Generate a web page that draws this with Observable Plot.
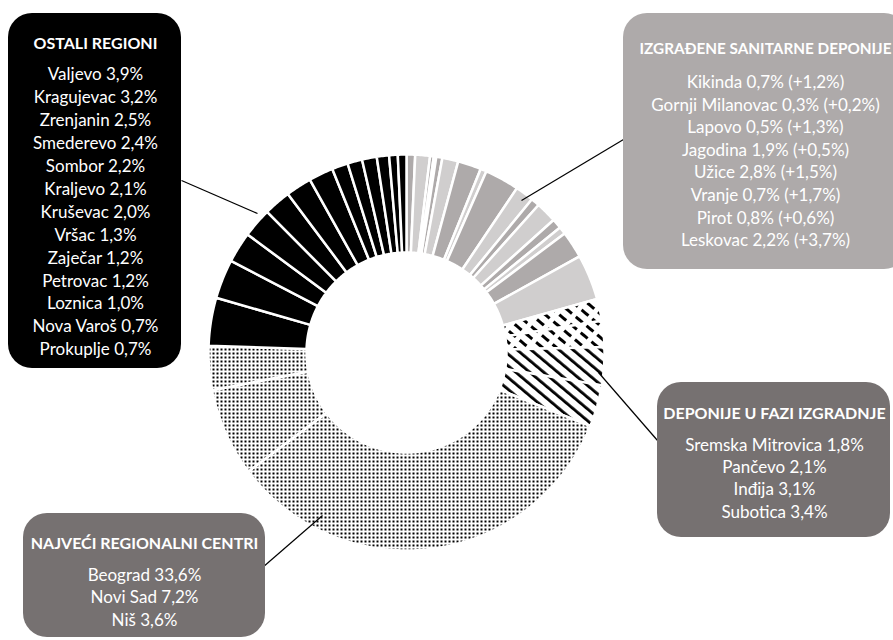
<!DOCTYPE html>
<html><head><meta charset="utf-8">
<script src="https://cdn.jsdelivr.net/npm/d3@7"></script>
<script src="https://cdn.jsdelivr.net/npm/@observablehq/plot@0.6"></script>
<style>html,body{margin:0;padding:0;background:#fff;overflow:hidden}</style>
</head><body><div id="chart"></div>
<script>
// ---- data ----
const sanitarneNames = ["Kikinda", "Gornji Milanovac", "Lapovo", "Jagodina", "Užice", "Vranje", "Pirot", "Leskovac"];
const sanitarneValues = [0.7, 0.3, 0.5, 1.9, 2.8, 0.7, 0.8, 2.2];
const sanitarnePlus = [1.2, 0.2, 1.3, 0.5, 1.5, 1.7, 0.6, 3.7];
const faziNames = ["Sremska Mitrovica", "Pančevo", "Inđija", "Subotica"];
const faziValues = [1.8, 2.1, 3.1, 3.4];
const centriNames = ["Beograd", "Novi Sad", "Niš"];
const centriValues = [33.6, 7.2, 3.6];
const ostaliNames = ["Valjevo", "Kragujevac", "Zrenjanin", "Smederevo", "Sombor", "Kraljevo", "Kruševac", "Vršac", "Zaječar", "Petrovac", "Loznica", "Nova Varoš", "Prokuplje"];
const ostaliValues = [3.9, 3.2, 2.5, 2.4, 2.2, 2.1, 2.0, 1.3, 1.2, 1.2, 1.0, 0.7, 0.7];
const groupTitles = ["IZGRAĐENE SANITARNE DEPONIJE", "DEPONIJE U FAZI IZGRADNJE", "NAJVEĆI REGIONALNI CENTRI", "OSTALI REGIONI"];

// ---- styles / layout ----
const kinds = ["izgradjena", "dodatak", "fazi", "faziDash", "centri", "ostali"];
const kindFills = ["#AEAAAA", "#D0CECE", "url(#hatch)", "url(#hatchDash)", "url(#dots)", "#000000"];
const donut = {cx: 406, cy: 352, outer: 198, inner: 100};
const W = 893, H = 640;
const font = "Lato, 'Open Sans', sans-serif";
const bodySize = 17;

const fmt = v => v.toFixed(1).replace(".", ",") + "%";

// slices in clockwise order from 12 o'clock
const slices = [];
sanitarneNames.forEach((n, i) => {
  slices.push({name: n, kind: "izgradjena", value: sanitarneValues[i]});
  slices.push({name: n + " (+)", kind: "dodatak", value: sanitarnePlus[i]});
});
faziNames.forEach((n, i) => slices.push({name: n, kind: i < 2 ? "faziDash" : "fazi", value: faziValues[i]}));
centriNames.forEach((n, i) => slices.push({name: n, kind: "centri", value: centriValues[i]}));
ostaliNames.forEach((n, i) => slices.push({name: n, kind: "ostali", value: ostaliValues[i]}));

const arcs = d3.pie().sort(null).value(d => d.value)(slices);
const ringPts = [];
arcs.forEach((a, k) => {
  const n = Math.max(2, Math.ceil((a.endAngle - a.startAngle) / (Math.PI / 360)));
  const pts = [];
  for (let j = 0; j <= n; j++) {
    const t = a.startAngle + (a.endAngle - a.startAngle) * j / n;
    pts.push([donut.cx + donut.outer * Math.sin(t), donut.cy - donut.outer * Math.cos(t)]);
  }
  for (let j = n; j >= 0; j--) {
    const t = a.startAngle + (a.endAngle - a.startAngle) * j / n;
    pts.push([donut.cx + donut.inner * Math.sin(t), donut.cy - donut.inner * Math.cos(t)]);
  }
  pts.push(pts[0]);
  pts.forEach(([x, y]) => ringPts.push({id: k, kind: a.data.kind, x, y}));
});

// annotation boxes
const boxes = [
  {x1: 623, x2: 908, y1: 13, y2: 269, fill: "#AEAAAA", cx: 765, ty: 49, tsize: 15.3, by: 82, step: 22.6,
   title: groupTitles[0], lines: sanitarneNames.map((n, i) => `${n} ${fmt(sanitarneValues[i])} (+${fmt(sanitarnePlus[i])})`)},
  {x1: 657, x2: 890, y1: 382, y2: 537, fill: "#767171", cx: 774, ty: 413, tsize: 16, by: 445, step: 22.2,
   title: groupTitles[1], lines: faziNames.map((n, i) => `${n} ${fmt(faziValues[i])}`)},
  {x1: 23, x2: 265, y1: 513, y2: 637, fill: "#767171", cx: 144, ty: 543, tsize: 16, by: 575, step: 22.3,
   title: groupTitles[2], lines: centriNames.map((n, i) => `${n} ${fmt(centriValues[i])}`)},
  {x1: 8, x2: 181, y1: 13, y2: 368, fill: "#000000", cx: 95, ty: 43, tsize: 16, by: 74, step: 22.95,
   title: groupTitles[3], lines: ostaliNames.map((n, i) => `${n} ${fmt(ostaliValues[i])}`)}
];
const leaders = [
  {x1: 521, y1: 200, x2: 623, y2: 139},
  {x1: 598, y1: 372, x2: 657, y2: 440},
  {x1: 322, y1: 515, x2: 262, y2: 567},
  {x1: 257, y1: 213, x2: 181, y2: 180}
];
const bodyTexts = boxes.flatMap(b => b.lines.map((t, i) => ({x: b.cx, y: b.by + i * b.step, text: t})));

const chart = Plot.plot({
  width: W, height: H, margin: 0,
  x: {domain: [0, W], range: [0, W], axis: null},
  y: {domain: [0, H], range: [0, H], axis: null},
  color: {type: "ordinal", domain: kinds, range: kindFills},
  style: {background: "white", fontFamily: font},
  marks: [
    Plot.line(ringPts, {x: "x", y: "y", z: "id", fill: "kind", stroke: "white", strokeWidth: 2.5, strokeLinejoin: "miter", curve: "linear"}),
    Plot.link(leaders, {x1: "x1", y1: "y1", x2: "x2", y2: "y2", stroke: "black", strokeWidth: 1.2}),
    ...boxes.map(b => Plot.rect([b], {x1: "x1", x2: "x2", y1: "y1", y2: "y2", fill: b.fill, rx: 24})),
    ...boxes.map(b => Plot.text([b], {x: "cx", y: "ty", text: "title", fill: "white", fontSize: b.tsize, fontWeight: "bold", fontFamily: font})),
    Plot.text(bodyTexts, {x: "x", y: "y", text: "text", fill: "white", fontSize: bodySize, fontFamily: font})
  ]
});

const svg = d3.select(chart);
const defs = svg.insert("defs", ":first-child");
const dots = defs.append("pattern").attr("id", "dots").attr("patternUnits", "userSpaceOnUse").attr("width", 4).attr("height", 4);
dots.append("rect").attr("width", 4).attr("height", 4).attr("fill", "white");
dots.append("rect").attr("x", 0).attr("y", 0).attr("width", 2).attr("height", 2).attr("fill", "black");
const hatch = defs.append("pattern").attr("id", "hatch").attr("patternUnits", "userSpaceOnUse").attr("width", 9).attr("height", 9).attr("patternTransform", "rotate(-50)");
hatch.append("rect").attr("width", 9).attr("height", 9).attr("fill", "white");
hatch.append("rect").attr("width", 2.8).attr("height", 9).attr("fill", "black");
const hatchDash = defs.append("pattern").attr("id", "hatchDash").attr("patternUnits", "userSpaceOnUse").attr("width", 9).attr("height", 14).attr("patternTransform", "rotate(-50)");
hatchDash.append("rect").attr("width", 9).attr("height", 14).attr("fill", "white");
hatchDash.append("rect").attr("width", 3).attr("height", 9).attr("fill", "black");

document.getElementById("chart").appendChild(chart);
</script>
</body></html>
